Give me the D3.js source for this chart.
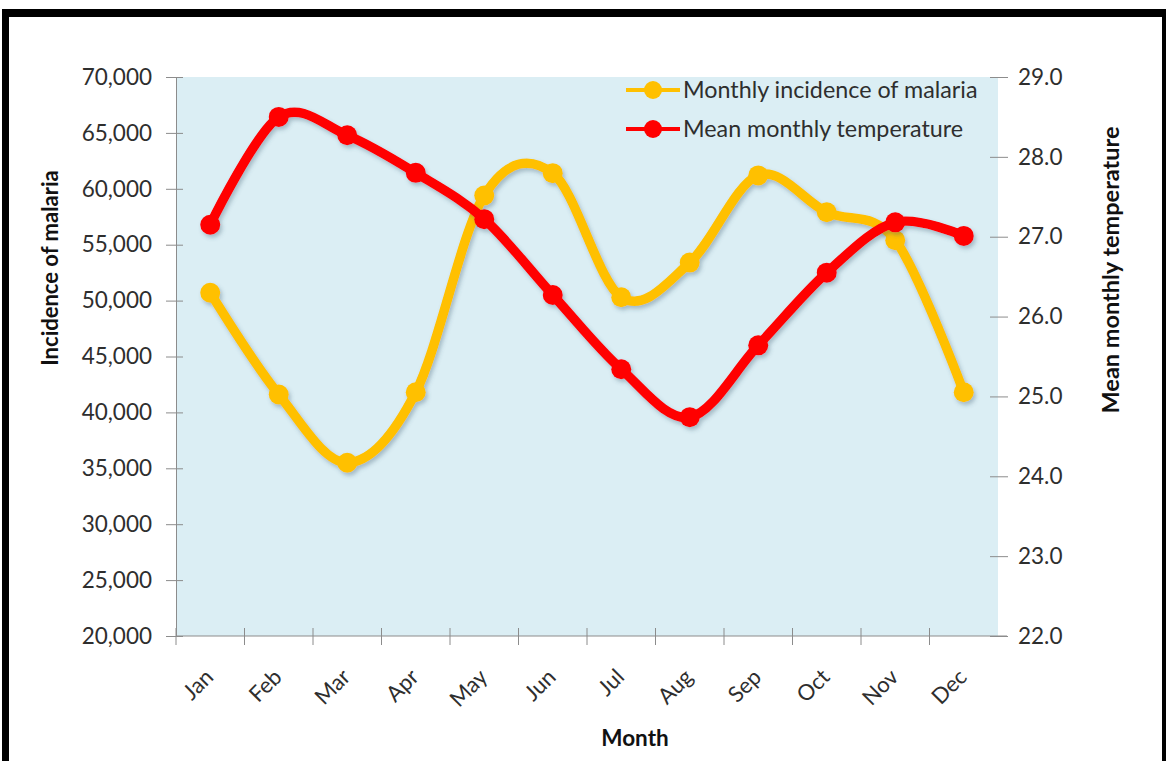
<!DOCTYPE html>
<html>
<head>
<meta charset="utf-8">
<script src="https://cdn.jsdelivr.net/npm/d3@7"></script>
<style>
  html, body { margin: 0; padding: 0; background: #fff; }
  svg { display: block; }
  text { font-family: Lato, "Open Sans", sans-serif; }
</style>
</head>
<body>
<svg id="chart" width="1167" height="761"></svg>
<script>
// Monthly malaria incidence and mean monthly temperature
const months = ["Jan", "Feb", "Mar", "Apr", "May", "Jun", "Jul", "Aug", "Sep", "Oct", "Nov", "Dec"];
const malariaCases = [50700, 41600, 35500, 41800, 59400, 61400, 50300, 53400, 61200, 57900, 55400, 41800];
const meanTemperature = [27.15, 28.50, 28.27, 27.80, 27.22, 26.27, 25.34, 24.74, 25.64, 26.55, 27.18, 27.01];
const casesTicks = [20000, 25000, 30000, 35000, 40000, 45000, 50000, 55000, 60000, 65000, 70000];
const tempTicks = [22, 23, 24, 25, 26, 27, 28, 29];
const seriesNames = ["Monthly incidence of malaria", "Mean monthly temperature"];

const W = 1167, H = 761;
const plot = { left: 176, right: 998, top: 77, bottom: 636 };
const colors = { malaria: "#FFC000", temp: "#FF0000", axis: "#8C8C8C", bg: "#DBEEF4", label: "#2e2e2e" };

const svg = d3.select("#chart");

// soft drop shadow for the series
const defs = svg.append("defs");
const shadow = defs.append("filter").attr("id", "shadow")
  .attr("x", "-10%").attr("y", "-10%").attr("width", "130%").attr("height", "130%");
shadow.append("feDropShadow")
  .attr("dx", 2).attr("dy", 3).attr("stdDeviation", 2)
  .attr("flood-color", "#3a5a70").attr("flood-opacity", 0.35);

// outer frame
svg.append("rect").attr("x", 0).attr("y", 0).attr("width", W).attr("height", H).attr("fill", "#fff");
svg.append("rect").attr("x", 2).attr("y", 9).attr("width", 1164).attr("height", 8).attr("fill", "#000");
svg.append("rect").attr("x", 2).attr("y", 9).attr("width", 7).attr("height", H - 9).attr("fill", "#000");
svg.append("rect").attr("x", 1162).attr("y", 9).attr("width", 4).attr("height", H - 9).attr("fill", "#000");

const x = d3.scaleBand().domain(months).range([plot.left, plot.right]);
const yL = d3.scaleLinear().domain([20000, 70000]).range([plot.bottom, plot.top]);
const yR = d3.scaleLinear().domain([22, 29]).range([plot.bottom, plot.top]);

// plot area
svg.append("rect")
  .attr("x", plot.left).attr("y", plot.top)
  .attr("width", plot.right - plot.left).attr("height", plot.bottom - plot.top)
  .attr("fill", colors.bg);

// left axis
const fmt = d3.format(",");
const gL = svg.append("g").attr("transform", `translate(${plot.left},0)`)
  .call(d3.axisLeft(yL).tickValues(casesTicks).tickFormat(fmt).tickSize(10).tickPadding(14));
gL.selectAll(".tick line").attr("x1", 7).attr("x2", -10);

// right axis
const gR = svg.append("g").attr("transform", `translate(${plot.right},0)`)
  .call(d3.axisRight(yR).tickValues(tempTicks).tickFormat(d3.format(".1f")).tickSize(10).tickPadding(10));
gR.select(".domain").remove();
gR.selectAll(".tick line").attr("x1", -8).attr("x2", 10);

// bottom axis: line, boundary ticks and rotated month labels
const gB = svg.append("g").attr("transform", `translate(0,${plot.bottom})`);
gB.append("line").attr("x1", plot.left).attr("x2", plot.right + 9)
  .attr("y1", 0).attr("y2", 0).attr("stroke", colors.axis);
gB.selectAll("line.bt").data(d3.range(months.length)).join("line")
  .attr("class", "bt")
  .attr("x1", i => x(months[i])).attr("x2", i => x(months[i]))
  .attr("y1", -8).attr("y2", 9).attr("stroke", colors.axis);
gB.selectAll("text.ml").data(months).join("text")
  .attr("class", "ml")
  .attr("transform", d => `translate(${x(d) + x.bandwidth() / 2 - 1},${37}) rotate(-45)`)
  .attr("text-anchor", "end")
  .attr("dy", "0.35em")
  .attr("font-size", 22)
  .attr("fill", colors.label)
  .text(d => d);

[gL, gR].forEach(g => {
  g.selectAll(".domain").attr("stroke", colors.axis);
  g.selectAll(".tick line").attr("stroke", colors.axis);
  g.selectAll(".tick text").attr("font-size", 22.5).attr("fill", colors.label)
    .attr("font-family", "Lato, sans-serif");
});

// series
const smooth = d3.curveCardinal.tension(0);
const lineL = d3.line().x((d, i) => x(months[i]) + x.bandwidth() / 2).y(d => yL(d)).curve(smooth);
const lineR = d3.line().x((d, i) => x(months[i]) + x.bandwidth() / 2).y(d => yR(d)).curve(smooth);

function drawSeries(values, line, yScale, color) {
  const g = svg.append("g").attr("filter", "url(#shadow)");
  g.append("path").attr("d", line(values))
    .attr("fill", "none").attr("stroke", color).attr("stroke-width", 9.5)
    .attr("stroke-linejoin", "round").attr("stroke-linecap", "round");
  g.selectAll("circle").data(values).join("circle")
    .attr("cx", (d, i) => x(months[i]) + x.bandwidth() / 2)
    .attr("cy", d => yScale(d))
    .attr("r", 10).attr("fill", color);
}
drawSeries(malariaCases, lineL, yL, colors.malaria);
drawSeries(meanTemperature, lineR, yR, colors.temp);

// legend
const legend = svg.append("g");
[colors.malaria, colors.temp].forEach((c, i) => {
  const ly = 90 + i * 39;
  legend.append("line").attr("x1", 626).attr("x2", 680).attr("y1", ly).attr("y2", ly)
    .attr("stroke", c).attr("stroke-width", 4);
  legend.append("circle").attr("cx", 653).attr("cy", ly).attr("r", 9).attr("fill", c);
  legend.append("text").attr("x", 683).attr("y", ly).attr("dy", "0.35em")
    .attr("font-size", 23.3).attr("fill", colors.label).text(seriesNames[i]);
});

// axis titles
svg.append("text").attr("transform", "translate(58,268) rotate(-90)")
  .attr("text-anchor", "middle").attr("font-weight", "bold").attr("font-size", 22)
  .attr("fill", "#111").text("Incidence of malaria");
svg.append("text").attr("transform", "translate(1119,270) rotate(-90)")
  .attr("text-anchor", "middle").attr("font-weight", "bold").attr("font-size", 23.5)
  .attr("fill", "#111").text("Mean monthly temperature");
svg.append("text").attr("x", 635).attr("y", 746)
  .attr("text-anchor", "middle").attr("font-weight", "bold").attr("font-size", 22.5)
  .attr("fill", "#111").text("Month");
</script>
</body>
</html>
